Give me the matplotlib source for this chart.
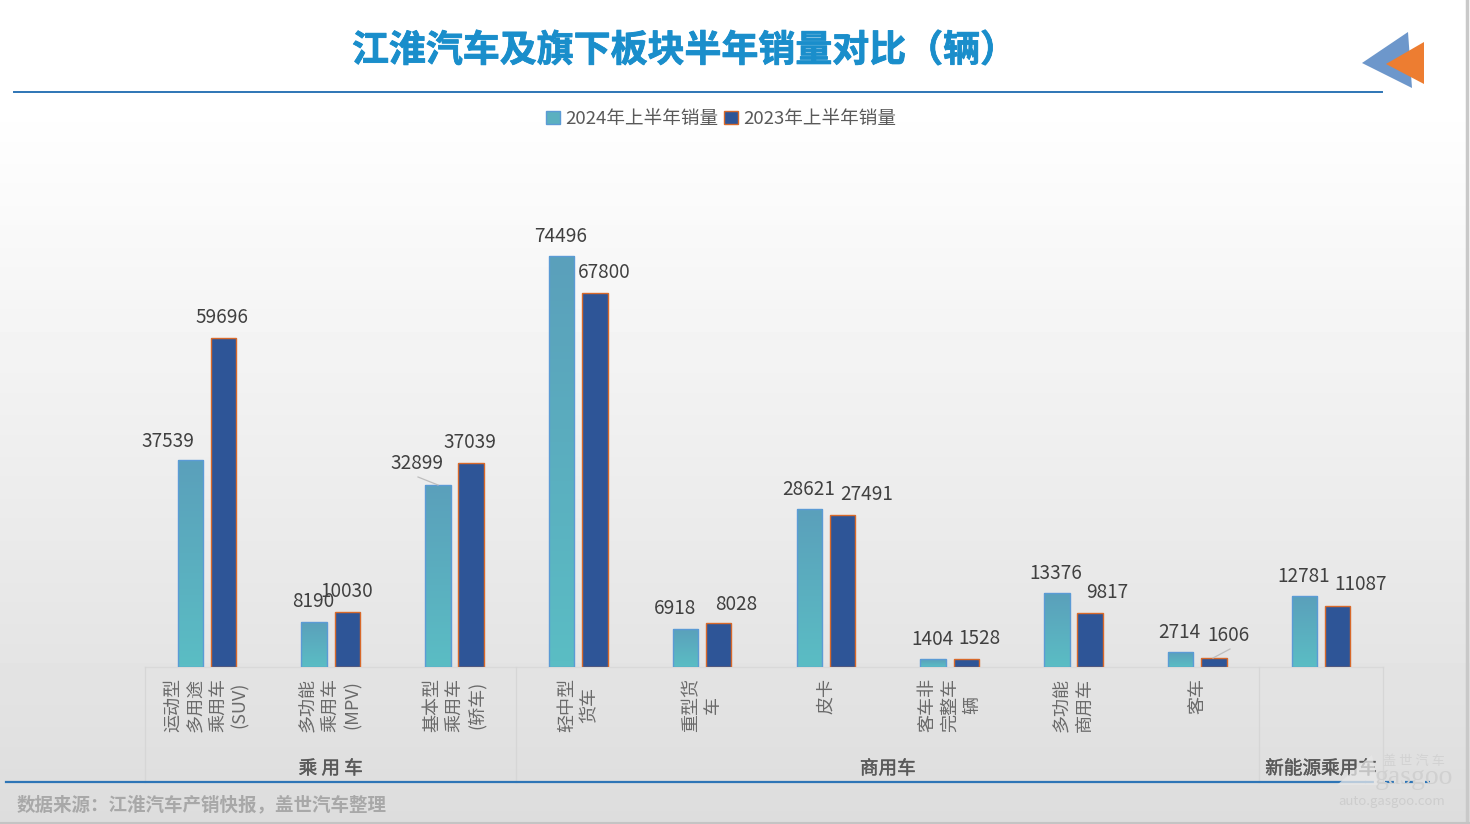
import numpy as np
import matplotlib
matplotlib.use("Agg")
import matplotlib.pyplot as plt
import matplotlib.patheffects as pe
from matplotlib.lines import Line2D
from matplotlib.patches import Polygon, Patch

plt.rcParams['font.family'] = ['Noto Sans CJK SC', 'DejaVu Sans']

# ---- data ----
categories = ["运动型\n多用途\n乘用车\n(SUV)", "多功能\n乘用车\n(MPV)", "基本型\n乘用车\n(轿车)",
              "轻中型\n货车", "重型货\n车", "皮卡", "客车非\n完整车\n辆", "多功能\n商用车", "客车", ""]
groups = ["乘 用 车", "商用车", "新能源乘用车"]
group_spans = [(0, 3), (3, 9), (9, 10)]
series_names = ["2024年上半年销量", "2023年上半年销量"]
sales_2024 = [37539, 8190, 32899, 74496, 6918, 28621, 1404, 13376, 2714, 12781]
sales_2023 = [59696, 10030, 37039, 67800, 8028, 27491, 1528, 9817, 1606, 11087]
title = "江淮汽车及旗下板块半年销量对比（辆）"
source = "数据来源：江淮汽车产销快报，盖世汽车整理"

# label offsets in pixels from the bar's top-centre (layout only)
off_2024 = [(-22, 18), (-1, 20), (-21, 22), (-1, 20), (-11, 20), (-1, 20), (-1, 20), (-1, 20), (-1, 20), (-1, 20)]
off_2023 = [(-2, 20), (-1, 20), (-1, 20), (9, 20), (17, 18), (24, 21), (13, 20), (17, 20), (15, 23), (23, 21)]

W, H = 1470, 824
fig = plt.figure(figsize=(W / 100, H / 100), dpi=100)
def fx(x): return x / W
def fy(y): return 1 - y / H

# background gradient
bg = fig.add_axes([0, 0, 1, 1], zorder=0)
bg.axis('off')
g = np.clip((np.linspace(0, H, 256) - 100) / (H - 100), 0, 1)
bg.imshow((1 - g * (1 - 0.865)).reshape(-1, 1), cmap='gray', vmin=0, vmax=1, aspect='auto', extent=[0, 1, 0, 1])

# chart axes: x spans 145..1383 px, baseline at y=667 px
px_per_unit = 411 / 74496
top_px = 140
ax = fig.add_axes([fx(145), fy(667), (1383 - 145) / W, (667 - top_px) / H], zorder=1)
ax.patch.set_alpha(0)
ax.set_xlim(-0.5, 9.5)
ax.set_ylim(0, (667 - top_px) / px_per_unit)
ax.set_autoscale_on(False)
ax.set_yticks([])
ax.set_xticks([])
for s in ax.spines.values():
    s.set_visible(False)

x = np.arange(len(categories))
w, d = 0.206, 0.134
b1 = ax.bar(x - d, sales_2024, w, facecolor='none', edgecolor='#5b9bd5', linewidth=1.0, zorder=3)
b2 = ax.bar(x + d, sales_2023, w, facecolor='#2e5597', edgecolor='#d8692a', linewidth=1.0, zorder=3)

# teal gradient fill for 2024 bars
cmap = matplotlib.colors.LinearSegmentedColormap.from_list('t', ['#5aa0bb', '#5bbdc4'])
for rect in b1:
    x0, wd, h = rect.get_x(), rect.get_width(), rect.get_height()
    im = ax.imshow(np.linspace(0, 1, 64).reshape(-1, 1), cmap=cmap, aspect='auto',
                   extent=[x0, x0 + wd, 0, h], zorder=2)
    im.set_clip_path(rect)

for rects, vals, offs in ((b1, sales_2024, off_2024), (b2, sales_2023, off_2023)):
    for r, v, o in zip(rects, vals, offs):
        ax.annotate(str(v), (r.get_x() + r.get_width() / 2, v), xytext=o, textcoords='offset pixels',
                    ha='center', va='center', fontsize=13.7, color='#404040', zorder=5, annotation_clip=False)

# leader lines
fig.add_artist(Line2D([fx(418), fx(438)], [fy(477), fy(485)], color='#bdbdbd', lw=0.9, zorder=2))
fig.add_artist(Line2D([fx(1230), fx(1213)], [fy(649), fy(658)], color='#bdbdbd', lw=0.9, zorder=2))

# category labels
tr = ax.get_xaxis_transform()
for xi, c in zip(x, categories):
    ax.text(xi, -11 / (667 - top_px), c, transform=tr, rotation=90, ha='center', va='top',
            multialignment='center', fontsize=13, color='#6a6a6a', linespacing=1.3, clip_on=False)

# group labels and separators
for name, (a, b) in zip(groups, group_spans):
    ax.text((a + b) / 2 - 0.5, -102 / (667 - top_px), name, transform=tr, ha='center', va='center',
            fontsize=13.4, color='#595959', clip_on=False,
            path_effects=[pe.withStroke(linewidth=0.3, foreground='#595959')])
for sep in (0, 3, 9, 10):
    ax.plot([sep - 0.5, sep - 0.5], [0, -115 / (667 - top_px)], transform=tr, color='#d6d6d6', lw=0.9, clip_on=False)
ax.plot([-0.5, 9.5], [0, 0], transform=tr, color='#d9d9d9', lw=0.9, clip_on=False, zorder=1)

# legend
handles = [Patch(facecolor='#5bb0c0', edgecolor='#5b9bd5'), Patch(facecolor='#2e5597', edgecolor='#d8692a')]
fig.legend(handles, series_names, loc='center', bbox_to_anchor=(fx(721), fy(119)), ncol=2, frameon=False,
           fontsize=13.4, labelcolor='#595959', handlelength=0.75, handleheight=0.75, handletextpad=0.3,
           columnspacing=0.3, borderpad=0, borderaxespad=0)

# title, rules, source
fig.text(fx(352), fy(51), title, ha='left', va='center', fontsize=26.6, fontweight='bold', color='#1a8ecb', zorder=5,
         path_effects=[pe.withStroke(linewidth=0.6, foreground='#1a8ecb')])
fig.add_artist(Line2D([fx(14), fx(1382)], [fy(92), fy(92)], color='#2e75b6', lw=1.4, zorder=2))
fig.add_artist(Line2D([fx(6), fx(1365)], [fy(782), fy(782)], color='#2e75b6', lw=1.6, zorder=2))
fig.add_artist(Line2D([fx(1365), fx(1430)], [fy(782), fy(782)], color='#2e75b6', lw=1.6, ls=(0, (4, 5)), zorder=2))
fig.text(fx(17), fy(805), source, ha='left', va='center', fontsize=13.33, fontweight='bold', color='#a8a8a8', zorder=5)

# corner arrow mark
fig.add_artist(Polygon([[fx(1362), fy(63)], [fx(1408), fy(32)], [fx(1412), fy(88)]], closed=True,
                       transform=fig.transFigure, facecolor='#6d97cb', edgecolor='none', zorder=3))
fig.add_artist(Polygon([[fx(1386), fy(64)], [fx(1424), fy(42)], [fx(1424), fy(84)]], closed=True,
                       transform=fig.transFigure, facecolor='#ed7d31', edgecolor='none', zorder=4))

# watermark
fig.add_artist(Polygon([[fx(1337), fy(785)], [fx(1352), fy(772)], [fx(1372), fy(755)], [fx(1378), fy(785)]], closed=True,
                       transform=fig.transFigure, facecolor='#e8e8e8', alpha=0.75, edgecolor='none', zorder=5))
fig.text(fx(1414), fy(761), "盖 世 汽 车", ha='center', va='center', fontsize=9.5, color='#d2d2d2', zorder=6)
fig.text(fx(1414), fy(778), "gasgoo", ha='center', va='center', fontsize=20, family='Liberation Serif',
         color='#d0d0d0', zorder=6)
fig.text(fx(1392), fy(802), "auto.gasgoo.com", ha='center', va='center', fontsize=9.5, color='#cdcdcd', zorder=6)

# slide borders
fig.add_artist(Line2D([fx(1467), fx(1467)], [0, 1], color='#c9c9c9', lw=2.5, zorder=6))
fig.add_artist(Line2D([0, 1], [fy(823), fy(823)], color='#c4c4c4', lw=1.5, zorder=6))

fig.savefig('out.png', dpi=100)
